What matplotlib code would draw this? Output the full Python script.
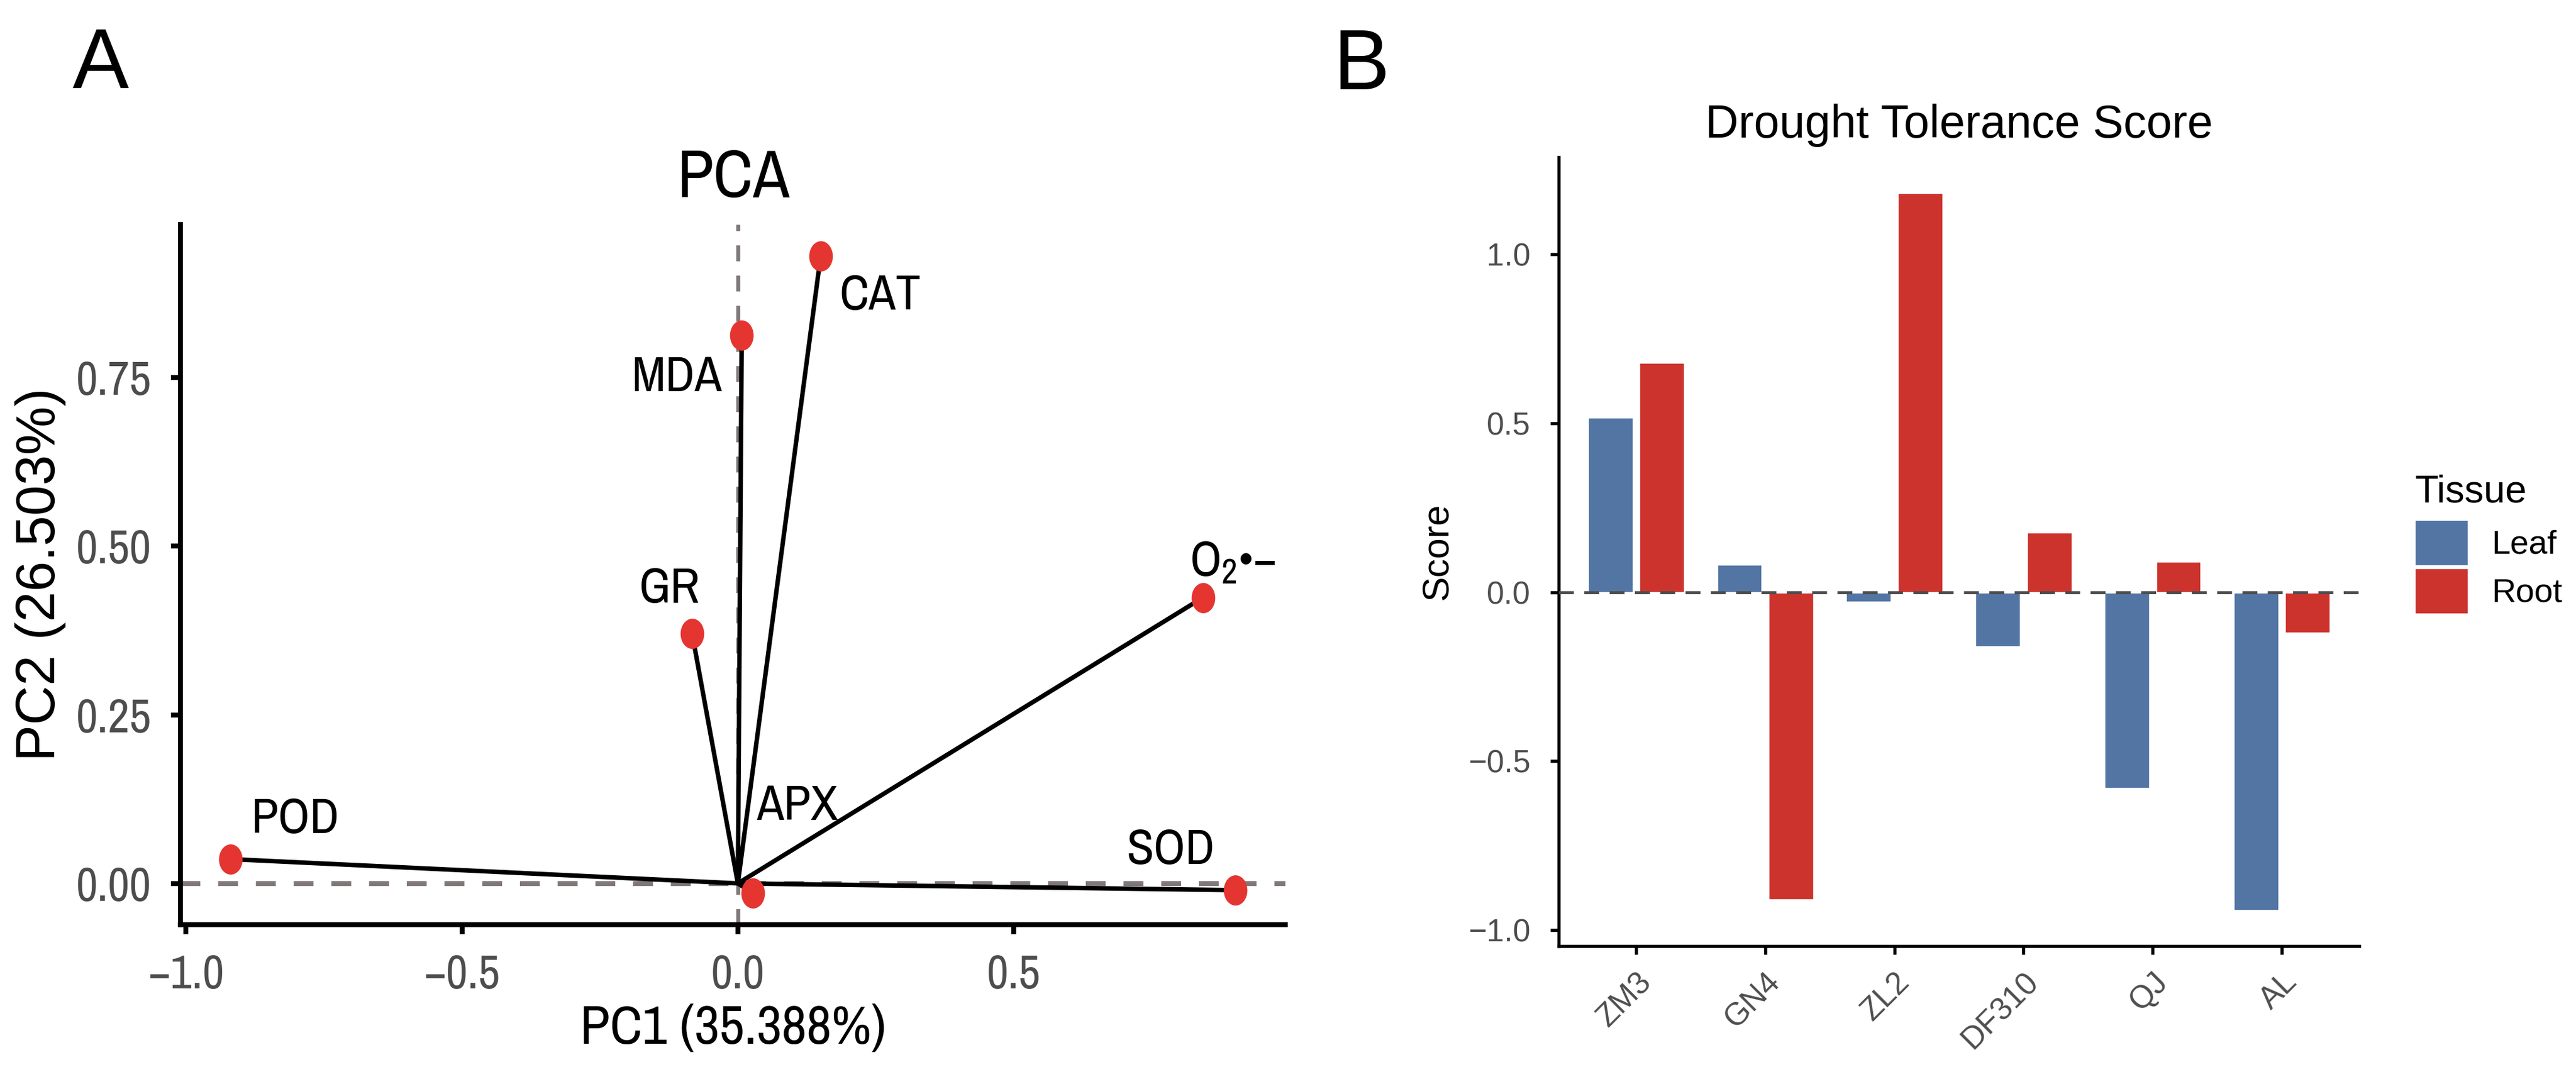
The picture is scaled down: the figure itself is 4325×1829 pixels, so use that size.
import matplotlib
matplotlib.use("Agg")
import matplotlib.pyplot as plt
from matplotlib import font_manager
from matplotlib.patches import Patch
from matplotlib.path import Path
from matplotlib.transforms import Affine2D
import numpy as np

# Panel A: PCA loadings
variables = ["POD", "GR", "MDA", "CAT", "O$_2$•−", "APX", "SOD"]
pc1 = [-0.919, -0.083, 0.007, 0.150, 0.843, 0.027, 0.901]
pc2 = [0.036, 0.371, 0.813, 0.930, 0.424, -0.014, -0.010]
pc1_label = "PC1 (35.388%)"
pc2_label = "PC2 (26.503%)"

# Panel B: drought tolerance score per cultivar
cultivars = ["ZM3", "GN4", "ZL2", "DF310", "QJ", "AL"]
leaf_score = [0.518, 0.083, -0.029, -0.161, -0.580, -0.941]
root_score = [0.679, -0.910, 1.181, 0.178, 0.091, -0.120]

# Label nudges for the PCA text (points)
label_nudge = {"POD": (26, 16), "GR": (-9, 18), "MDA": (-26, -17),
               "CAT": (24, -16), "O$_2$•−": (12, 14), "APX": (18, 35),
               "SOD": (-26, 16)}

LEAF = "#5275A4"
ROOT = "#CD332D"
DOT = "#E53530"
TICK_GREY = "#4D4D4D"

# Panel A was typeset in a narrow sans; pick the closest installed one
installed = {f.name for f in font_manager.fontManager.ttflist}
NARROW = "Liberation Sans"
for cand in ["Liberation Sans Narrow", "Arial Narrow", "Archivo Narrow",
             "Roboto Condensed", "PT Sans Narrow"]:
    if cand in installed:
        NARROW = cand
        break

plt.rcParams["font.family"] = ["Liberation Sans", "DejaVu Sans"]
plt.rcParams["mathtext.fontset"] = "custom"
plt.rcParams["mathtext.rm"] = NARROW
plt.rcParams["mathtext.it"] = NARROW
plt.rcParams["axes.unicode_minus"] = True


def expanded(lo, hi, frac=0.05):
    """ggplot-like continuous expansion."""
    pad = (hi - lo) * frac
    return lo - pad, hi + pad


W, H, DPI = 4325, 1829, 300
fig = plt.figure(figsize=(W / DPI, H / DPI), dpi=DPI)

# ---------------- Panel A ----------------
axa = fig.add_axes([303 / W, 1 - 1553 / H, (2158 - 303) / W, (1553 - 377) / H])
for s in ["top", "right"]:
    axa.spines[s].set_visible(False)
for s in ["left", "bottom"]:
    axa.spines[s].set_linewidth(2.0)

axa.axhline(0, color="#807878", lw=2.0, ls=(0, (4, 3.6)), zorder=1)
axa.axvline(0, color="#807878", lw=1.6, ls=(0, (4, 3.6)), zorder=1)

for x, y in zip(pc1, pc2):
    axa.plot([0, x], [0, y], color="black", lw=1.8, solid_capstyle="butt", zorder=2)

ellipse = Path.unit_circle().transformed(Affine2D().scale(0.78, 1.0))
axa.plot(pc1, pc2, ls="none", marker=ellipse, markersize=12.2,
         color=DOT, markeredgewidth=0, zorder=3)

for name, x, y in zip(variables, pc1, pc2):
    dx, dy = label_nudge[name]
    axa.annotate(name, (x, y), xytext=(dx, dy), textcoords="offset points",
                 ha="center", va="center", fontsize=20, family=NARROW, zorder=4)

axa.set_xlim(*expanded(min(pc1 + [0]), max(pc1 + [0])))
axa.set_ylim(*expanded(min(pc2 + [0]), max(pc2 + [0])))
axa.set_xticks([-1.0, -0.5, 0.0, 0.5])
axa.set_xticklabels(["−1.0", "−0.5", "0.0", "0.5"])
axa.set_yticks([0.0, 0.25, 0.5, 0.75])
axa.set_yticklabels(["0.00", "0.25", "0.50", "0.75"])
axa.tick_params(length=3.8, width=2.0, colors="black", labelcolor=TICK_GREY,
                labelsize=19, pad=8)
for lab in axa.get_xticklabels() + axa.get_yticklabels():
    lab.set_family(NARROW)
axa.set_xlabel(pc1_label, fontsize=22, family=NARROW, labelpad=3)
axa.set_ylabel(pc2_label, fontsize=22, labelpad=4)
axa.set_title("PCA", fontsize=27, family=NARROW, pad=11)

# ---------------- Panel B ----------------
axb = fig.add_axes([2617 / W, 1 - 1589 / H, (3961 - 2617) / W, (1589 - 264) / H])
for s in ["top", "right"]:
    axb.spines[s].set_visible(False)
for s in ["left", "bottom"]:
    axb.spines[s].set_linewidth(1.3)

pos = np.arange(len(cultivars))
axb.bar(pos - 0.2, leaf_score, width=0.35, color=LEAF, edgecolor="white",
        linewidth=0.6, label="Leaf", zorder=2)
axb.bar(pos + 0.2, root_score, width=0.35, color=ROOT, edgecolor="white",
        linewidth=0.6, label="Root", zorder=2)
axb.axhline(0, color="#4D4D4D", lw=1.2, ls=(0, (5, 3.5)), zorder=3)

axb.set_xlim(-0.6, len(cultivars) - 0.4)
axb.set_ylim(*expanded(min(leaf_score + root_score), max(leaf_score + root_score)))
axb.set_yticks([-1.0, -0.5, 0.0, 0.5, 1.0])
axb.set_yticklabels(["−1.0", "−0.5", "0.0", "0.5", "1.0"])
axb.set_xticks(pos)
axb.set_xticklabels(cultivars, rotation=45, ha="right", va="top",
                    rotation_mode="anchor")
axb.tick_params(length=3.4, width=1.3, colors="black", labelcolor=TICK_GREY,
                labelsize=12.7)
axb.tick_params(axis="y", pad=8)
axb.tick_params(axis="x", pad=5)
axb.set_ylabel("Score", fontsize=15, labelpad=5)
axb.set_title("Drought Tolerance Score", fontsize=18.5, pad=8)

handles = [Patch(facecolor=LEAF, edgecolor="white", linewidth=0.6),
           Patch(facecolor=ROOT, edgecolor="white", linewidth=0.6)]
leg = axb.legend(handles, ["Leaf", "Root"], title="Tissue", loc="upper left",
                 bbox_to_anchor=(4054 / W, 1 - 796 / H),
                 bbox_transform=fig.transFigure, frameon=False, fontsize=13.5,
                 title_fontsize=15.5, handlelength=1.6, handleheight=1.73,
                 handletextpad=0.7, labelspacing=0.08, borderpad=0,
                 borderaxespad=0, alignment="left")
leg._legend_box.sep = 4

# Panel letters
fig.text(122 / W, 1 - 44 / H, "A", fontsize=34, ha="left", va="top")
fig.text(2238 / W, 1 - 46 / H, "B", fontsize=34, ha="left", va="top")

fig.savefig("out.png", dpi=DPI)
